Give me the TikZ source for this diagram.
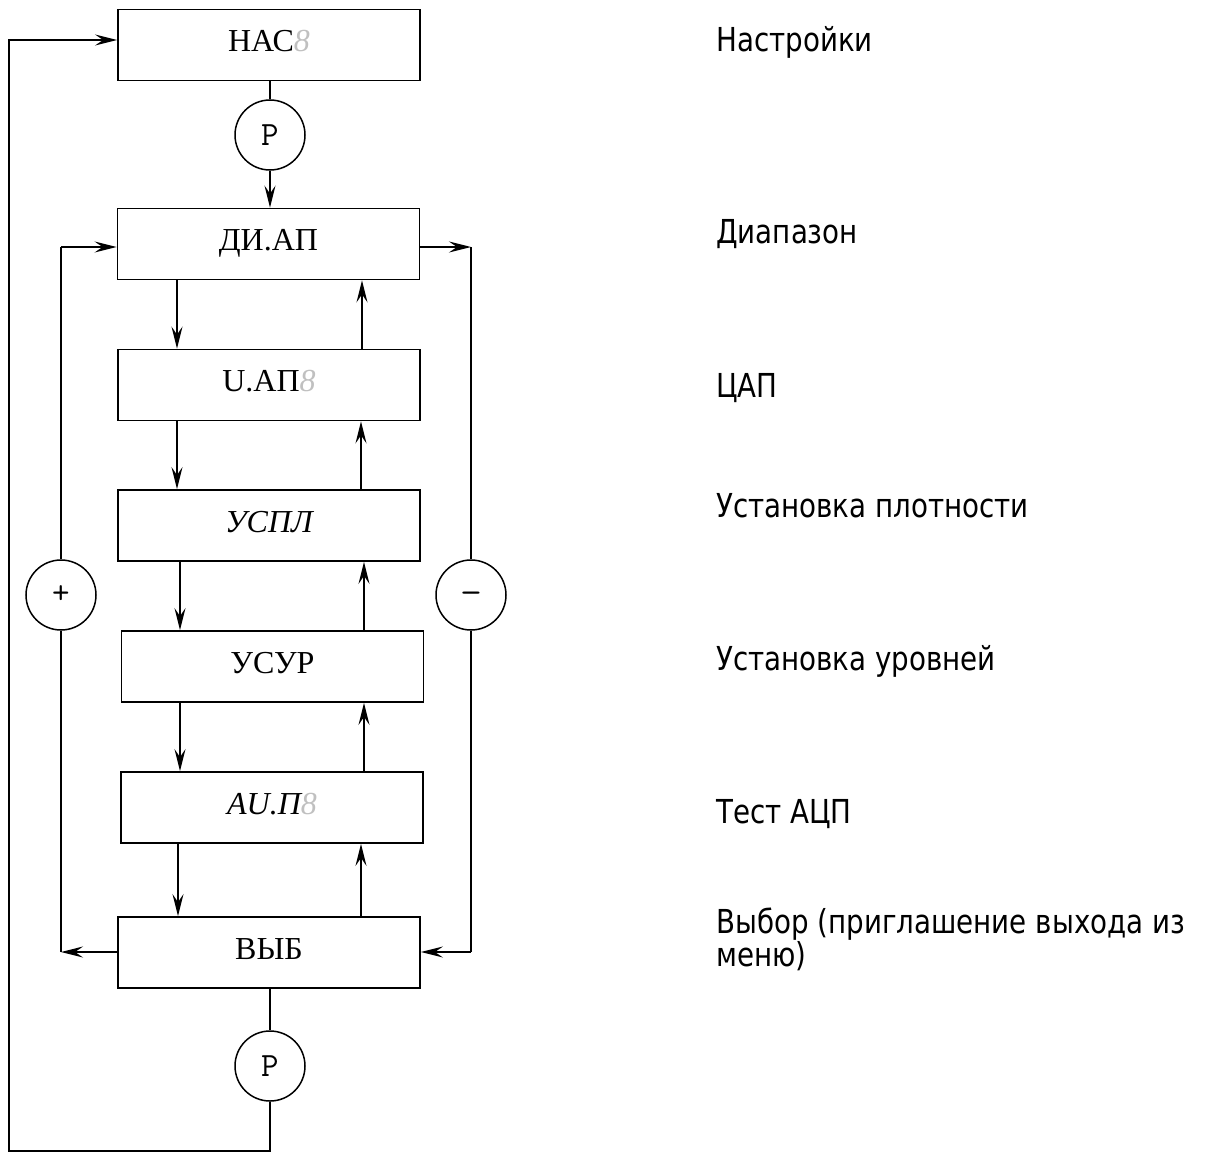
\documentclass[tikz,border=0pt]{standalone}
\usepackage{fontspec}
\setmainfont{Liberation Serif}
\newfontfamily\labelfont[FakeStretch=0.84]{DejaVu Sans}
\usetikzlibrary{arrows.meta,calc}
\definecolor{digitgray}{RGB}{192,192,192}
\newcommand{\dig}{\textcolor{digitgray}{\itshape 8}}
\begin{document}
\begin{tikzpicture}[x=1pt,y=-1pt,
  menubox/.style={draw, line width=1.8pt, minimum width=302pt, minimum height=71pt,
    inner sep=0pt, text height=22pt, text depth=9pt, font=\fontsize{32}{38}\selectfont},
  keycirc/.style={draw, circle, line width=1.5pt, minimum size=70pt, inner sep=0pt,
    font=\ttfamily\fontsize{34}{40}\selectfont},
  link/.style={line width=1.8pt, line join=miter},
  arr/.style={link, -{Stealth[length=22pt,width=11pt,inset=8pt]}},
  note/.style={anchor=base west, inner sep=0pt, align=left,
    font=\labelfont\fontsize{33}{33}\selectfont}
]
\useasboundingbox (0,0) rectangle (1206,1153);

% menu items
\node[menubox] (b1) at (269,45)    {НАС\dig};
\node[menubox] (b2) at (268.5,244) {ДИ.АП};
\node[menubox] (b3) at (269,385)   {U.АП\dig};
\node[menubox] (b4) at (269,525.5) {\itshape УСПЛ};
\node[menubox] (b5) at (272.5,666.5) {УСУР};
\node[menubox] (b6) at (272,807.5) {\itshape АU.П\dig};
\node[menubox] (b7) at (269,952.5) {ВЫБ};

% keys
\node[keycirc] (c1) at (270,135)  {P};
\node[keycirc] (c2) at (270,1066) {P};
\node[keycirc] (cp) at (61,595)   {+};
\node[keycirc] (cm) at (471,595)  {\raisebox{-8.5pt}[0pt][0pt]{\scalebox{1.25}[1]{-}}};

% columns of the vertical links
\coordinate (d1) at (177,0);
\coordinate (d2) at (180,0);
\coordinate (d3) at (178,0);
\coordinate (u1) at (362,0);
\coordinate (u2) at (364,0);
\coordinate (u3) at (361,0);

% entry via key P
\draw[link] (b1.south -| c1) -- (c1.north);
\draw[arr] (c1.south) -- (c1.south |- b2.north);

% stepping down
\draw[arr] (b2.south -| d1) -- (b3.north -| d1);
\draw[arr] (b3.south -| d1) -- (b4.north -| d1);
\draw[arr] (b4.south -| d2) -- (b5.north -| d2);
\draw[arr] (b5.south -| d2) -- (b6.north -| d2);
\draw[arr] (b6.south -| d3) -- (b7.north -| d3);

% stepping up
\draw[arr] (b3.north -| u1) -- (b2.south -| u1);
\draw[arr] (b4.north -| u3) -- (b3.south -| u3);
\draw[arr] (b5.north -| u2) -- (b4.south -| u2);
\draw[arr] (b6.north -| u2) -- (b5.south -| u2);
\draw[arr] (b7.north -| u3) -- (b6.south -| u3);

% wrap-around with "+"
\coordinate (lt) at (61,247);
\coordinate (lb) at (61,952);
\draw[arr] (b7.west |- lb) -- (lb);
\draw[link] (lb) -- (cp.south);
\draw[link] (cp.north) -- (lt);
\draw[arr] (lt) -- (lt -| b2.west);

% wrap-around with "-"
\coordinate (rt) at (471,247);
\coordinate (rb) at (471,952);
\draw[arr] (b2.east |- rt) -- (rt);
\draw[link] (rt) -- (cm.north);
\draw[link] (cm.south) -- (rb);
\draw[arr] (rb) -- (rb -| b7.east);

% exit via key P back to settings
\coordinate (ob) at (270,1151);
\coordinate (oc) at (9,1151);
\coordinate (ot) at (9,40);
\draw[link] (b7.south -| c2) -- (c2.north);
\draw[arr] (c2.south) -- (ob) -- (oc) -- (ot) -- (ot -| b1.west);

% descriptions
\node[note] (n1) at (716,52)  {Настройки};
\node[note] (n2) at (716,243) {Диапазон};
\node[note] (n3) at (716,397) {ЦАП};
\node[note] (n4) at (716,517) {Установка плотности};
\node[note] (n5) at (716,670) {Установка уровней};
\node[note] (n6) at (716,823) {Тест АЦП};
\node[note] (n7) at (716,966) {Выбор (приглашение выхода из\\меню)};
\end{tikzpicture}
\end{document}
